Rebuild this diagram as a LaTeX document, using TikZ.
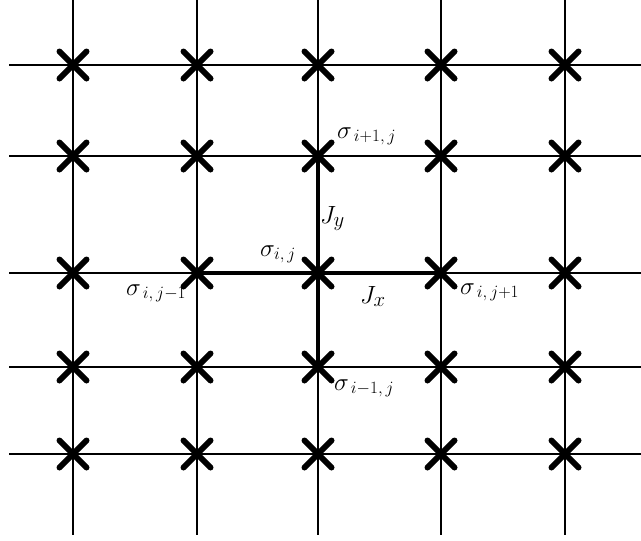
\documentclass[tikz,border=0pt]{standalone}
\usetikzlibrary{shapes.misc}
\begin{document}
\begin{tikzpicture}[x=1pt,y=-1pt,
  gridline/.style={line width=2.3pt},
  bondline/.style={line width=3.8pt},
  site/.style={cross out, draw, line width=6pt, line cap=round, minimum size=27pt, inner sep=0pt, outer sep=0pt},
  lab/.style={anchor=base west, inner sep=0pt},
  big/.style={font=\fontsize{24}{28}\selectfont},
  bigger/.style={font=\fontsize{27}{32}\selectfont},
  jfont/.style={font=\fontsize{28}{32}\selectfont}]
\useasboundingbox (0,0) rectangle (641,541);
\foreach \c/\x in {1/73,2/197,3/318,4/441,5/565} {
  \coordinate (top\c) at (\x,0);
  \coordinate (bot\c) at (\x,535);
}
\foreach \r/\y in {1/65,2/156,3/273,4/367,5/454} {
  \coordinate (left\r) at (9,\y);
  \coordinate (right\r) at (641,\y);
}
\foreach \c in {1,...,5} \draw[gridline] (top\c) -- (bot\c);
\foreach \r in {1,...,5} \draw[gridline] (left\r) -- (right\r);
\foreach \c in {1,...,5} {
  \foreach \r in {1,...,5} {
    \node[site] (s\r\c) at (top\c |- left\r) {};
  }
}
\draw[bondline] (s32.center) -- (s34.center);
\draw[bondline] (s23.center) -- (s43.center);
% labels
\node[lab,big] (lup) at (337,138) {$\sigma_{\,i+1,\,j}$};
\node[lab,jfont] (ljy) at (320,223) {$J_y$};
\node[lab,bigger] (lij) at (260,256) {$\sigma_{i,\,j}$};
\node[lab,big] (lleft) at (126,295) {$\sigma_{\,i,\,j-1}$};
\node[lab,jfont] (ljx) at (360,303) {$J_x$};
\node[lab,big] (lright) at (460,294) {$\sigma_{\,i,\,j+1}$};
\node[lab,big] (ldown) at (334,390) {$\sigma_{\,i-1,\,j}$};
\end{tikzpicture}
\end{document}
